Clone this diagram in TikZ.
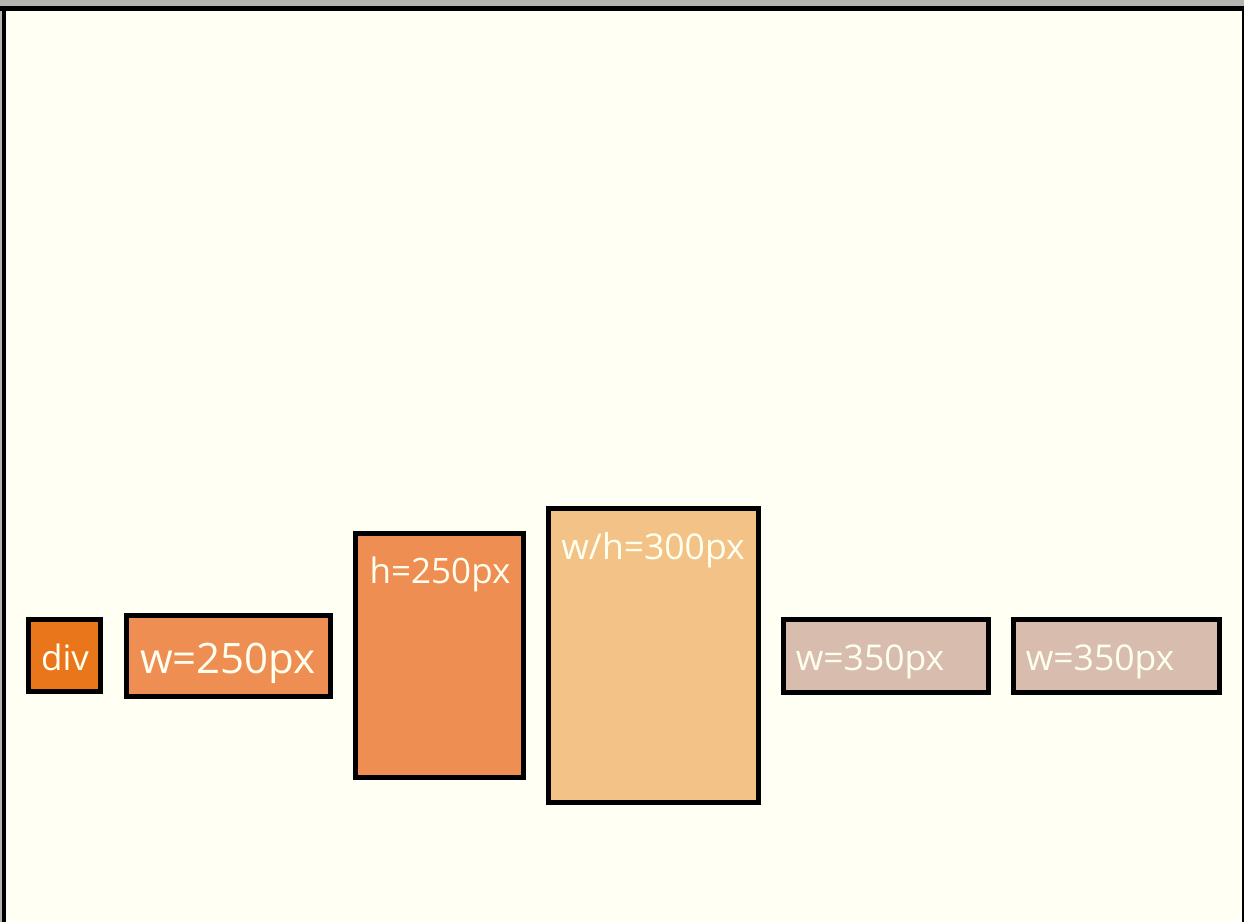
\documentclass[tikz,border=0pt]{standalone}
\usepackage{fontspec}
\usepackage{graphicx}
\setmainfont{Open Sans}
\definecolor{bgivory}{HTML}{FFFFF4}
\definecolor{topgrey}{HTML}{B4B4B0}
\definecolor{divfill}{HTML}{E9761A}
\definecolor{orfill}{HTML}{EE8E52}
\definecolor{tanfill}{HTML}{F3C286}
\definecolor{rosefill}{HTML}{D8BCAE}
\definecolor{txtcol}{HTML}{FFFFF0}
\tikzset{
  box/.style={draw=black, line width=5pt, inner sep=0pt, rectangle},
  lbl/.style={anchor=base, inner sep=0pt, text=txtcol},
}
\newcommand{\lbltext}[3]{\fontsize{#1}{#1}\selectfont\scalebox{#2}[1]{#3}}
\begin{document}
\begin{tikzpicture}[x=1pt,y=-1pt]
\useasboundingbox (0,0) rectangle (1244,922);
\fill[bgivory] (0,0) rectangle (1244,922);
\fill[topgrey] (0,0) rectangle (1244,6);
\fill[topgrey] (0,0) rectangle (2,922);
\fill[black] (0,6) rectangle (1244,11);
\fill[black] (2,6) rectangle (6,922);
\fill[black] (1241.5,6) rectangle (1244,922);

\node[box, fill=divfill, minimum width=72pt, minimum height=72pt] (bdiv) at (64.5,655.5) {};
\node[box, fill=orfill, minimum width=204pt, minimum height=81pt] (bw250) at (228.5,656) {};
\node[box, fill=orfill, minimum width=168pt, minimum height=244pt] (bh250) at (439.5,655.5) {};
\node[box, fill=tanfill, minimum width=210pt, minimum height=294pt] (bwh300) at (653.5,655.5) {};
\node[box, fill=rosefill, minimum width=205pt, minimum height=73pt] (bw350a) at (886,656) {};
\node[box, fill=rosefill, minimum width=206pt, minimum height=73pt] (bw350b) at (1116.5,656) {};

\node[lbl] (tdiv) at (65,670) {\lbltext{35}{1.0}{div}};
\node[lbl] (tw250) at (228,673) {\lbltext{42}{1.0}{w=250px}};
\node[lbl] (th250) at (440,583) {\lbltext{35}{1.0}{h=250px}};
\node[lbl] (twh300) at (653,559) {\lbltext{35.5}{1.0}{w/h=300px}};
\node[lbl] (tw350a) at (870,670) {\lbltext{35.5}{1.0}{w=350px}};
\node[lbl] (tw350b) at (1100,670) {\lbltext{35.5}{1.0}{w=350px}};
\end{tikzpicture}
\end{document}
